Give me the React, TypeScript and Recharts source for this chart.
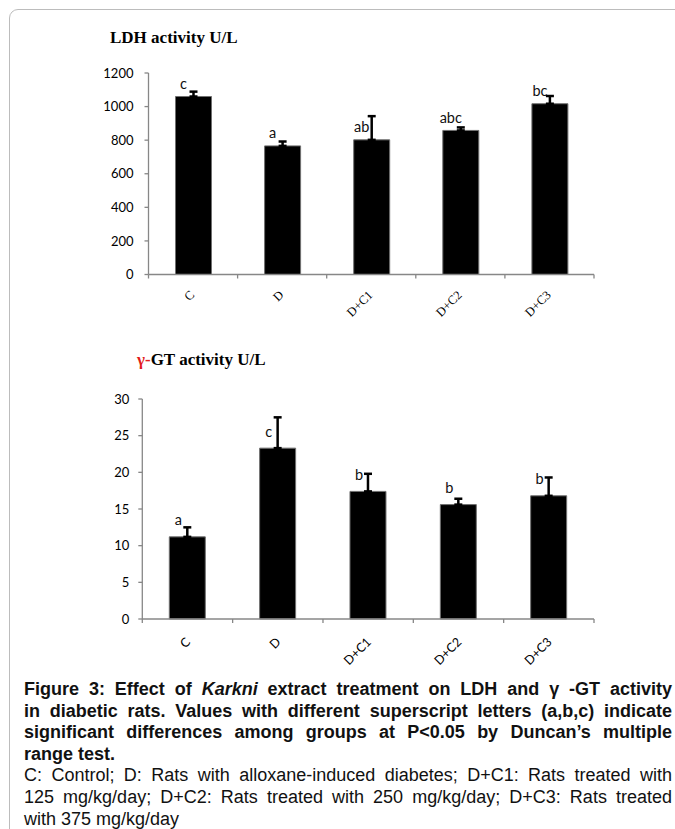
import React from 'react';
import { BarChart, Bar, XAxis, YAxis, ErrorBar, LabelList } from 'recharts';

// ---- data ----
const groups = ['C', 'D', 'D+C1', 'D+C2', 'D+C3'];

const ldhMeans = [1060, 766, 802, 858, 1017];
const ldhErrors = [29, 26, 141, 18, 46];
const ldhLetters = ['c', 'a', 'ab', 'abc', 'bc'];
const ldhTicks = [0, 200, 400, 600, 800, 1000, 1200];

const ggtMeans = [11.2, 23.3, 17.4, 15.6, 16.8];
const ggtErrors = [1.3, 4.2, 2.4, 0.8, 2.5];
const ggtLetters = ['a', 'c', 'b', 'b', 'b'];
const ggtTicks = [0, 5, 10, 15, 20, 25, 30];

const ldhData = groups.map((g, i) => ({
  group: g,
  value: ldhMeans[i],
  err: [0, ldhErrors[i]],
  letter: ldhLetters[i],
}));

const ggtData = groups.map((g, i) => ({
  group: g,
  value: ggtMeans[i],
  err: [0, ggtErrors[i]],
  letter: ggtLetters[i],
}));

// ---- layout ----
const W = 675;
const AXIS_COLOR = '#878787';

const top = { height: 330, margin: { top: 73, right: 81, bottom: 5, left: 100 }, yWidth: 48.5, xHeight: 50.5 };
const bot = { height: 345, margin: { top: 69, right: 81, bottom: 20, left: 94 }, yWidth: 48.3, xHeight: 36 };

function makeCatTick(o: { family: string; size: number; dx: number; dy: number; band: number; count: number; margin: number }) {
  return function CatTick(props: any) {
    const { x, y, payload, index } = props;
    const axisY = Number(y) - o.margin;
    const cx = Number(x);
    const half = o.band / 2;
    const tx = cx + o.dx;
    const ty = axisY + o.dy;
    return (
      <g>
        <line x1={cx - half} y1={axisY} x2={cx - half} y2={axisY + 4} stroke={AXIS_COLOR} strokeWidth={1.3} />
        {index === o.count - 1 ? (
          <line x1={cx + half} y1={axisY} x2={cx + half} y2={axisY + 4} stroke={AXIS_COLOR} strokeWidth={1.3} />
        ) : null}
        <text
          x={tx}
          y={ty}
          transform={`rotate(-45 ${tx} ${ty})`}
          textAnchor="end"
          dominantBaseline="hanging"
          fontFamily={o.family}
          fontSize={o.size}
          fill="#000"
        >
          {payload.value}
        </text>
      </g>
    );
  };
}

function makeLetterLabel(dx: number, dy: number) {
  return function LetterLabel(props: any) {
    const { x, y, width, value } = props;
    const cx = Number(x) + Number(width) / 2 + dx;
    return (
      <text
        x={cx}
        y={Number(y) + dy}
        textAnchor="middle"
        dominantBaseline="central"
        fontFamily="Lato, 'Open Sans', sans-serif"
        fontSize={14.5}
        fill="#111"
      >
        {value}
      </text>
    );
  };
}

const topBand = (W - top.margin.left - top.margin.right - top.yWidth) / groups.length;
const botBand = (W - bot.margin.left - bot.margin.right - bot.yWidth) / groups.length;

const TopTick = makeCatTick({ family: "'Liberation Serif', 'Times New Roman', serif", size: 12.5, dx: -4, dy: 15, band: topBand, count: groups.length, margin: 10 });
const BotTick = makeCatTick({ family: "Lato, 'Open Sans', sans-serif", size: 12.5, dx: -3, dy: 17, band: botBand, count: groups.length, margin: 10 });

const yTickStyle = { fontFamily: "Lato, 'Open Sans', sans-serif", fontSize: 13, fill: '#000' };

const captionBase: React.CSSProperties = {
  fontFamily: "'Liberation Sans', Arial, sans-serif",
  fontSize: 18,
  lineHeight: '21.6px',
  color: '#111',
  textAlign: 'justify',
  textAlignLast: 'justify' as any,
};

export default function App() {
  return (
    <div style={{ position: 'absolute', left: 0, top: 0, width: W, height: 829, overflow: 'hidden', background: '#fff' }}>
      {/* frame */}
      <div
        style={{
          position: 'absolute',
          left: 9,
          top: 8.5,
          width: 760,
          height: 900,
          border: '1.5px solid #bcbcbc',
          borderRadius: 9,
          boxSizing: 'border-box',
        }}
      />

      {/* LDH chart */}
      <div style={{ position: 'absolute', left: 0, top: 0 }}>
        <BarChart width={W} height={top.height} data={ldhData} margin={top.margin}>
          <XAxis
            dataKey="group"
            height={top.xHeight}
            interval={0}
            tickLine={false}
            tickSize={0}
            tickMargin={10}
            axisLine={{ stroke: AXIS_COLOR, strokeWidth: 1.3 }}
            tick={<TopTick />}
          />
          <YAxis
            width={top.yWidth}
            domain={[0, 1200]}
            ticks={ldhTicks}
            interval={0}
            tickSize={4}
            tickMargin={11}
            axisLine={{ stroke: AXIS_COLOR, strokeWidth: 1.3 }}
            tickLine={{ stroke: AXIS_COLOR, strokeWidth: 1.3 }}
            tick={yTickStyle}
          />
          <Bar dataKey="value" fill="#000" stroke="#707070" strokeWidth={1} barSize={36} isAnimationActive={false}>
            <ErrorBar dataKey="err" width={4} stroke="#000" strokeWidth={2.5} direction="y" />
            <LabelList dataKey="letter" content={makeLetterLabel(-10, -13)} />
          </Bar>
        </BarChart>
      </div>

      {/* GGT chart */}
      <div style={{ position: 'absolute', left: 0, top: 330 }}>
        <BarChart width={W} height={bot.height} data={ggtData} margin={bot.margin}>
          <XAxis
            dataKey="group"
            height={bot.xHeight}
            interval={0}
            tickLine={false}
            tickSize={0}
            tickMargin={10}
            axisLine={{ stroke: AXIS_COLOR, strokeWidth: 1.3 }}
            tick={<BotTick />}
          />
          <YAxis
            width={bot.yWidth}
            domain={[0, 30]}
            ticks={ggtTicks}
            interval={0}
            tickSize={4}
            tickMargin={9}
            axisLine={{ stroke: AXIS_COLOR, strokeWidth: 1.3 }}
            tickLine={{ stroke: AXIS_COLOR, strokeWidth: 1.3 }}
            tick={yTickStyle}
          />
          <Bar dataKey="value" fill="#000" stroke="#707070" strokeWidth={1} barSize={36} isAnimationActive={false}>
            <ErrorBar dataKey="err" width={4} stroke="#000" strokeWidth={2.5} direction="y" />
            <LabelList dataKey="letter" content={makeLetterLabel(-9, -17)} />
          </Bar>
        </BarChart>
      </div>

      {/* titles */}
      <svg width={W} height={829} style={{ position: 'absolute', left: 0, top: 0, pointerEvents: 'none' }}>
        <text x={110} y={42.5} fontFamily="'Liberation Serif', 'Times New Roman', serif" fontWeight="bold" fontSize={17} fill="#000">
          LDH activity U/L
        </text>
        <text x={137} y={365} fontFamily="'Liberation Serif', 'Times New Roman', serif" fontWeight="bold" fontSize={17} fill="#000">
          <tspan fill="#e31b1b">γ-</tspan>
          <tspan>GT activity U/L</tspan>
        </text>
      </svg>

      {/* caption */}
      <div style={{ position: 'absolute', left: 24, top: 679, width: 648 }}>
        <div style={{ ...captionBase, fontWeight: 'bold' }}>
          Figure 3: Effect of <i>Karkni</i> extract treatment on LDH and γ -GT activity
        </div>
        <div style={{ ...captionBase, fontWeight: 'bold' }}>
          in diabetic rats. Values with different superscript letters (a,b,c) indicate
        </div>
        <div style={{ ...captionBase, fontWeight: 'bold' }}>
          significant differences among groups at P&lt;0.05 by Duncan’s multiple
        </div>
        <div style={{ ...captionBase, fontWeight: 'bold', textAlignLast: 'left' as any }}>range test.</div>
        <div style={captionBase}>
          C: Control; D: Rats with alloxane-induced diabetes; D+C1: Rats treated with
        </div>
        <div style={captionBase}>
          125 mg/kg/day; D+C2: Rats treated with 250 mg/kg/day; D+C3: Rats treated
        </div>
        <div style={{ ...captionBase, textAlignLast: 'left' as any }}>with 375 mg/kg/day</div>
      </div>
    </div>
  );
}
